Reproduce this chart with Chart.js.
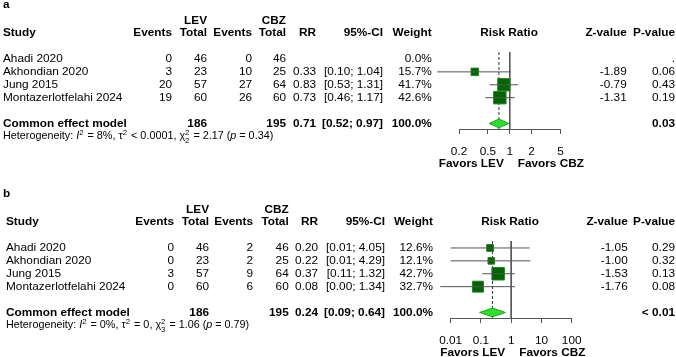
<!DOCTYPE html>
<html>
<head>
<meta charset="utf-8">
<script src="https://cdn.jsdelivr.net/npm/chart.js@4.4.1/dist/chart.umd.min.js"></script>
<style>
  body { margin: 0; overflow: hidden; background: #fff; }
  canvas { position: absolute; left: 0; }
</style>
</head>
<body>
<canvas id="forestA" width="676" height="180" style="top:0px"></canvas>
<canvas id="forestB" width="676" height="180" style="top:189px"></canvas>
<script>
// forest plots: LEV vs CBZ

const studies = ['Ahadi 2020', 'Akhondian 2020', 'Jung 2015', 'Montazerlotfelahi 2024'];
const levTotal = [46, 23, 57, 60];
const cbzTotal = [46, 25, 64, 60];

// panel a
const levEventsA = [0, 3, 20, 19];
const cbzEventsA = [0, 10, 27, 26];
const rrA = [null, 0.33, 0.83, 0.73];
const ciLowA = [null, 0.10, 0.53, 0.46];
const ciHighA = [null, 1.04, 1.31, 1.17];
const weightA = [0.0, 15.7, 41.7, 42.6];
const zA = [null, -1.89, -0.79, -1.31];
const pA = [null, 0.06, 0.43, 0.19];
const pooledA = [0.71, 0.52, 0.97];      // RR, low, high
const pooledPA = '0.03';
const ticksA = [0.2, 0.5, 1, 2, 5];
const hetA = ['8%', '<', '0.0001', '2', '2.17', '0.34'];

// panel b
const levEventsB = [0, 0, 3, 0];
const cbzEventsB = [2, 2, 9, 6];
const rrB = [0.20, 0.22, 0.37, 0.08];
const ciLowB = [0.01, 0.01, 0.11, 0.0045];
const ciHighB = [4.05, 4.29, 1.32, 1.34];
const weightB = [12.6, 12.1, 42.7, 32.7];
const zB = [-1.05, -1.00, -1.53, -1.76];
const pB = [0.29, 0.32, 0.13, 0.08];
const pooledB = [0.24, 0.09, 0.64];
const pooledPB = '< 0.01';
const ticksB = [0.01, 0.1, 1, 10, 100];
const hetB = ['0%', '=', '0', '3', '1.06', '0.79'];

const FONT = "'Liberation Sans', Arial, sans-serif";
const ROW_POOLED = 5;

// column anchors (right edges unless noted)
const colsA = { study: 3, levEv: 172, levTot: 207, cbzEv: 252, cbzTot: 286, rr: 316, ci: 383, w: 431.7, z: 626.7, p: 675, head: 509 };
const colsB = { study: 6, levEv: 174, levTot: 209, cbzEv: 253, cbzTot: 288.7, rr: 318, ci: 385, w: 433, z: 627.7, p: 675, head: 510 };

function fmtCI(lo, hi) {
    return '[' + lo.toFixed(2) + '; ' + hi.toFixed(2) + ']';
}

// heterogeneity line with super/subscripts
function drawHet(ctx, x, y, het) {
    const big = '10.8px ' + FONT, small = '7.8px ' + FONT, ital = 'italic 10.8px ' + FONT;
    const parts = [
        ['Heterogeneity: ', big, 0], ['I', ital, 0], ['2', small, -4],
        [' = ' + het[0] + ', \u03c4', big, 0], ['2', small, -4],
        [' ' + het[1] + ' ' + het[2] + ', \u03c7', big, 0], ['2', small, -4, het[3]],
        [' = ' + het[4] + ' (', big, 0], ['p', ital, 0], [' = ' + het[5] + ')', big, 0]
    ];
    ctx.textAlign = 'left';
    ctx.textBaseline = 'middle';
    parts.forEach(pt => {
        ctx.font = pt[1];
        ctx.fillText(pt[0], x, y + pt[2]);
        let w = ctx.measureText(pt[0]).width;
        if (pt[3]) {
            ctx.fillText(pt[3], x, y + 4);
            w = Math.max(w, ctx.measureText(pt[3]).width);
        }
        x += w + (pt[1] === small ? 1 : 0);
    });
}

function tablePlugin(p) {
    return {
        id: 'table' + p.tag,
        afterDraw(chart) {
            const ctx = chart.ctx;
            const ys = chart.scales.y, xs = chart.scales.x;
            const c = p.cols;
            const put = (t, x, row, align, bold) => {
                ctx.font = (bold ? 'bold ' : '') + '11.8px ' + FONT;
                ctx.textAlign = align;
                ctx.fillText(t, x, ys.getPixelForValue(row));
            };
            ctx.save();
            ctx.fillStyle = '#000';
            ctx.textBaseline = 'middle';

            put(p.tag, 3, -4.2, 'left', true);
            put('LEV', c.levTot, -3, 'right', true);
            put('CBZ', c.cbzTot, -3, 'right', true);
            put('Study', c.study, -2, 'left', true);
            put('Events', c.levEv, -2, 'right', true);
            put('Total', c.levTot, -2, 'right', true);
            put('Events', c.cbzEv, -2, 'right', true);
            put('Total', c.cbzTot, -2, 'right', true);
            put('RR', c.rr, -2, 'right', true);
            put('95%-CI', c.ci, -2, 'right', true);
            put('Weight', c.w, -2, 'right', true);
            put('Risk Ratio', c.head, -2, 'center', true);
            put('Z-value', c.z, -2, 'right', true);
            put('P-value', c.p, -2, 'right', true);

            studies.forEach((s, i) => {
                put(s, c.study, i, 'left');
                put(String(p.levEv[i]), c.levEv, i, 'right');
                put(String(levTotal[i]), c.levTot, i, 'right');
                put(String(p.cbzEv[i]), c.cbzEv, i, 'right');
                put(String(cbzTotal[i]), c.cbzTot, i, 'right');
                if (p.rr[i] !== null) {
                    put(p.rr[i].toFixed(2), c.rr, i, 'right');
                    put(fmtCI(p.lo[i], p.hi[i]), c.ci, i, 'right');
                }
                put(p.w[i].toFixed(1) + '%', c.w, i, 'right');
                if (p.z[i] !== null) put(p.z[i].toFixed(2), c.z, i, 'right');
                put(p.pv[i] !== null ? p.pv[i].toFixed(2) : '.', c.p, i, 'right');
            });

            const r = ROW_POOLED;
            put('Common effect model', c.study, r, 'left', true);
            put(String(levTotal.reduce((a, b) => a + b, 0)), c.levTot, r, 'right', true);
            put(String(cbzTotal.reduce((a, b) => a + b, 0)), c.cbzTot, r, 'right', true);
            put(p.pooled[0].toFixed(2), c.rr, r, 'right', true);
            put(fmtCI(p.pooled[1], p.pooled[2]), c.ci, r, 'right', true);
            put('100.0%', c.w, r, 'right', true);
            put(p.pooledP, c.p, r, 'right', true);

            drawHet(ctx, c.study, ys.getPixelForValue(r + 1), p.het);

            // favours labels under the axis
            const one = xs.getPixelForValue(1);
            const yFav = chart.chartArea.bottom + 35;
            ctx.font = 'bold 11.8px ' + FONT;
            ctx.textAlign = 'right';
            ctx.fillText('Favors LEV', one - 6, yFav);
            ctx.textAlign = 'left';
            ctx.fillText('Favors CBZ', one + 8, yFav);
            ctx.restore();
        }
    };
}

function createForest(id, p) {
    const datasets = [];
    // confidence intervals
    studies.forEach((s, i) => {
        if (p.rr[i] === null) return;
        datasets.push({
            data: [{ x: p.lo[i], y: i }, { x: p.hi[i], y: i }],
            showLine: true, borderColor: '#555', borderWidth: 1,
            pointRadius: 0, clip: false, order: 0
        });
    });
    // study squares, area ~ weight
    const shown = studies.map((s, i) => i).filter(i => p.rr[i] !== null);
    datasets.push({
        data: shown.map(i => ({ x: p.rr[i], y: i })),
        pointStyle: 'rect',
        pointRadius: ctx => 1.35 * Math.sqrt(p.w[shown[ctx.dataIndex]]),
        backgroundColor: '#006400', borderColor: '#2a7d2a', borderWidth: 1,
        clip: false, order: 1
    });
    // pooled diamond
    const r = ROW_POOLED, h = 0.34;
    datasets.push({
        data: [{ x: p.pooled[1], y: r }, { x: p.pooled[0], y: r - h }, { x: p.pooled[2], y: r },
               { x: p.pooled[0], y: r + h }, { x: p.pooled[1], y: r }],
        showLine: true, fill: 'shape', backgroundColor: '#2ee02e',
        borderColor: '#1fa01f', borderWidth: 1, pointRadius: 0, clip: false, order: 2
    });
    // no-effect line and pooled estimate line
    datasets.push({
        data: [{ x: 1, y: p.yMin }, { x: 1, y: p.yMax }],
        showLine: true, borderColor: '#555', borderWidth: 1, pointRadius: 0, order: 3
    });
    datasets.push({
        data: [{ x: p.pooled[0], y: p.yMin }, { x: p.pooled[0], y: p.yMax }],
        showLine: true, borderColor: '#333', borderWidth: 1, borderDash: [3, 2], pointRadius: 0, order: 3
    });

    new Chart(document.getElementById(id), {
        type: 'scatter',
        data: { datasets: datasets },
        options: {
            responsive: false,
            animation: false,
            events: [],
            layout: { padding: { left: p.left, right: p.right, top: 52, bottom: 0 } },
            plugins: { legend: { display: false }, tooltip: { enabled: false } },
            scales: {
                x: {
                    type: 'logarithmic',
                    min: p.ticks[0], max: p.ticks[p.ticks.length - 1],
                    afterBuildTicks: sc => { sc.ticks = p.ticks.map(v => ({ value: v })); },
                    afterFit: sc => { sc.height = 51; },
                    grid: { drawOnChartArea: false, drawTicks: true, tickLength: 5, color: '#555' },
                    border: { display: true, color: '#555' },
                    ticks: {
                        autoSkip: false, maxRotation: 0, padding: 10.5, color: '#000',
                        font: { family: FONT, size: 11.8 },
                        callback: v => String(v)
                    }
                },
                y: { type: 'linear', display: false, reverse: true, min: p.yMin, max: p.yMax }
            }
        },
        plugins: [tablePlugin(p)]
    });
}

createForest('forestA', {
    tag: 'a', cols: colsA, left: 459, right: 115.5, ticks: ticksA,
    levEv: levEventsA, cbzEv: cbzEventsA, rr: rrA, lo: ciLowA, hi: ciHighA,
    w: weightA, z: zA, pv: pA, pooled: pooledA, pooledP: pooledPA, het: hetA,
    yMin: -0.54, yMax: 5.43
});

createForest('forestB', {
    tag: 'b', cols: colsB, left: 450.7, right: 104.3, ticks: ticksB,
    levEv: levEventsB, cbzEv: cbzEventsB, rr: rrB, lo: ciLowB, hi: ciHighB,
    w: weightB, z: zB, pv: pB, pooled: pooledB, pooledP: pooledPB, het: hetB,
    yMin: -0.54, yMax: 5.43
});
</script>
</body>
</html>
